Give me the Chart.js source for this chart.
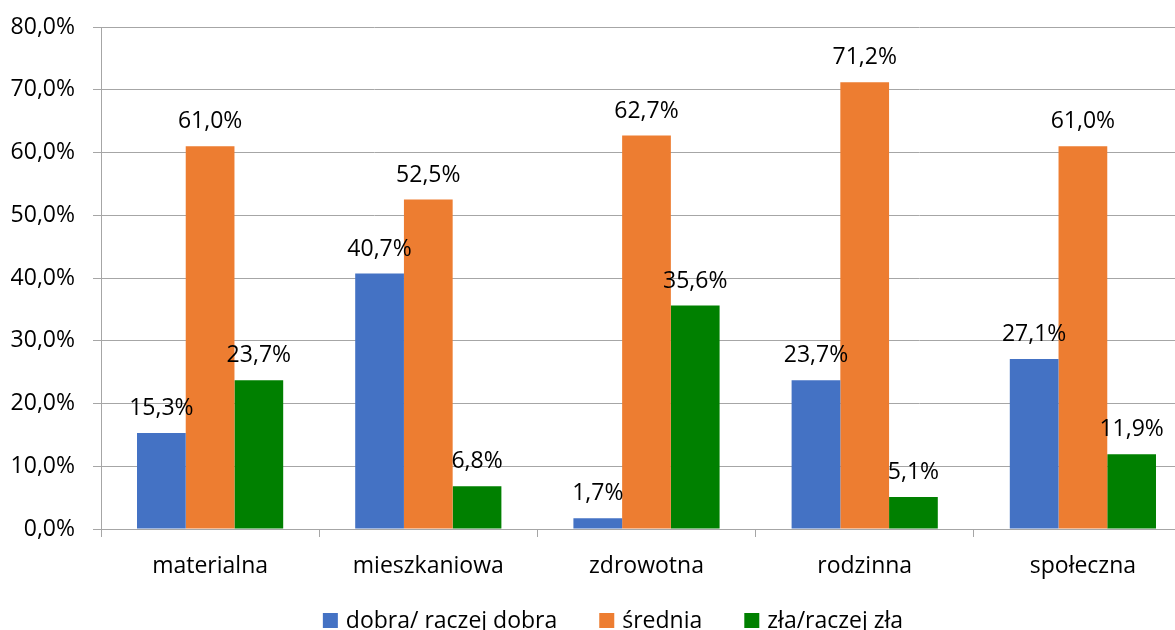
<!DOCTYPE html>
<html>
<head>
<meta charset="utf-8">
<script src="https://cdn.jsdelivr.net/npm/chart.js@4"></script>
<style>
    body { margin: 0; overflow: hidden; background: #fff; }
    #wrap { position: absolute; left: 0; top: 0; width: 1192px; height: 630px; }
</style>
</head>
<body>
<div id="wrap"><canvas id="chart"></canvas></div>
<script>
const categories = ['materialna', 'mieszkaniowa', 'zdrowotna', 'rodzinna', 'społeczna'];
const seriesNames = ['dobra/ raczej dobra', 'średnia', 'zła/raczej zła'];
const goodValues = [15.3, 40.7, 1.7, 23.7, 27.1];
const mediumValues = [61.0, 52.5, 62.7, 71.2, 61.0];
const badValues = [23.7, 6.8, 35.6, 5.1, 11.9];
const seriesColors = ['#4472C4', '#ED7D31', '#008000'];
const yTicks = [0, 10, 20, 30, 40, 50, 60, 70, 80];

const fontFamily = '"Open Sans", sans-serif';
const fontSize = 23;

function pct(v) {
    return v.toFixed(1).replace('.', ',') + '%';
}

// draws the value above each bar
const valueLabels = {
    id: 'valueLabels',
    afterDatasetsDraw(chart) {
        const ctx = chart.ctx;
        ctx.save();
        ctx.font = fontSize + 'px ' + fontFamily;
        ctx.fillStyle = '#000';
        ctx.textAlign = 'center';
        ctx.textBaseline = 'alphabetic';
        chart.data.datasets.forEach((ds, i) => {
            chart.getDatasetMeta(i).data.forEach((bar, j) => {
                ctx.fillText(pct(ds.data[j]), bar.x, bar.y - 18);
            });
        });
        ctx.restore();
    }
};

// legend drawn by hand so the gaps can match the original (box 15px, 8px to text, 42px between items)
const bottomLegend = {
    id: 'bottomLegend',
    afterDraw(chart) {
        const ctx = chart.ctx;
        const box = 15, gap = 8, spacing = 42;
        const baseline = 628, centerX = 613;
        ctx.save();
        ctx.font = fontSize + 'px ' + fontFamily;
        ctx.textBaseline = 'alphabetic';
        ctx.textAlign = 'left';
        const items = chart.data.datasets.map(ds => ({
            text: ds.label,
            color: ds.backgroundColor,
            width: box + gap + ctx.measureText(ds.label).width
        }));
        const total = items.reduce((s, it) => s + it.width, 0) + spacing * (items.length - 1);
        let x = centerX - total / 2;
        items.forEach(it => {
            ctx.fillStyle = it.color;
            ctx.fillRect(x, baseline - box, box, box);
            ctx.fillStyle = '#000';
            ctx.fillText(it.text, x + box + gap, baseline);
            x += it.width + spacing;
        });
        ctx.restore();
    }
};

const chart = new Chart(document.getElementById('chart').getContext('2d'), {
    type: 'bar',
    data: {
        labels: categories,
        datasets: [
            { label: seriesNames[0], data: goodValues, backgroundColor: seriesColors[0] },
            { label: seriesNames[1], data: mediumValues, backgroundColor: seriesColors[1] },
            { label: seriesNames[2], data: badValues, backgroundColor: seriesColors[2] }
        ]
    },
    options: {
        responsive: true,
        maintainAspectRatio: false,
        animation: false,
        categoryPercentage: 0.67,
        barPercentage: 1.0,
        layout: { padding: { left: 0, right: 0, top: 27, bottom: 51 } },
        plugins: {
            tooltip: { enabled: false },
            legend: { display: false }
        },
        scales: {
            x: {
                afterFit(scale) { scale.height = 50; },
                grid: { display: true, drawOnChartArea: false, drawTicks: true, tickLength: 8, color: '#a6a6a6' },
                border: { color: '#a6a6a6' },
                ticks: { color: '#000', padding: 16, font: { family: fontFamily, size: fontSize } }
            },
            y: {
                min: 0,
                max: 80,
                afterFit(scale) {
                    scale.width = 101;
                    scale.paddingTop = 0;
                    scale.paddingBottom = 0;
                },
                afterBuildTicks(scale) { scale.ticks = yTicks.map(v => ({ value: v })); },
                grid: { color: '#a6a6a6', tickLength: 8 },
                border: { color: '#a6a6a6' },
                ticks: {
                    color: '#000',
                    padding: 18,
                    font: { family: fontFamily, size: fontSize },
                    callback: v => pct(v)
                }
            }
        }
    },
    plugins: [valueLabels, bottomLegend]
});
</script>
</body>
</html>
